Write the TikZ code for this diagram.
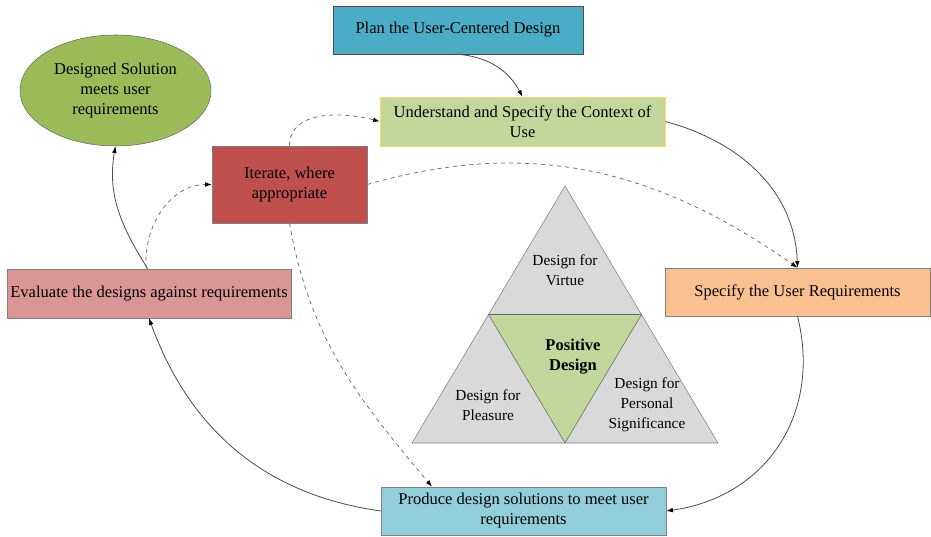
\documentclass[tikz,border=0pt]{standalone}
\usepackage{fontspec}
\setmainfont{Liberation Serif}
\usetikzlibrary{arrows.meta,shapes.geometric}
\usepackage{xcolor}
\definecolor{planblue}{HTML}{4BACC6}
\definecolor{ctxgreen}{HTML}{C3D69B}
\definecolor{ctxborder}{HTML}{FFD966}
\definecolor{iterred}{HTML}{C0504D}
\definecolor{solgreen}{HTML}{9BBB59}
\definecolor{evalpink}{HTML}{D99694}
\definecolor{reqorange}{HTML}{FAC090}
\definecolor{prodblue}{HTML}{92CDDC}
\definecolor{trigray}{HTML}{D9D9D9}

\begin{document}
\begin{tikzpicture}[
        x=0.75pt, y=0.75pt,
        every node/.style={font=\fontsize{12.4}{15}\selectfont, align=center},
        stage/.style={rectangle, draw=black!50, inner sep=1pt},
        flowarrow/.style={draw=black!70, line width=0.6pt, -{Latex[length=5pt,width=3.5pt,color=black]}},
        iterarrow/.style={flowarrow, draw=black!55, dashed},
        facet/.style={font=\fontsize{11.5}{15}\selectfont}
      ]
      \useasboundingbox (0,0) rectangle (931,536);

      % process stages
      \node[stage, fill=planblue, draw=black!70, minimum width=187.5pt, minimum height=36pt] (plan) at (458,506) {Plan the User-Centered Design};
      \node[stage, fill=ctxgreen, draw=ctxborder, minimum width=213.75pt, minimum height=36.75pt] (ctx) at (522.5,414.5) {Understand and Specify the Context of\\Use};
      \node[stage, fill=iterred, minimum width=116.25pt, minimum height=57.75pt] (iter) at (289.5,351.5) {Iterate, where\\appropriate};
      \node[ellipse, draw=black!60, fill=solgreen, inner sep=0pt, minimum width=143.25pt, minimum height=83.25pt] (sol) at (115.5,445.5) {Designed Solution\\meets user\\requirements};
      \node[stage, fill=evalpink, minimum width=213pt, minimum height=36.75pt] (eval) at (149,242.5) {Evaluate the designs against requirements};
      \node[stage, fill=reqorange, minimum width=198.75pt, minimum height=36pt] (req) at (797.5,244) {Specify the User Requirements};
      \node[stage, fill=prodblue, minimum width=213.75pt, minimum height=36pt] (prod) at (523.5,25) {Produce design solutions to meet user\\requirements};

      % positive design triangle
      \coordinate (apex) at (565,350);
      \coordinate (bl) at (412,93);
      \coordinate (br) at (718,93);
      \coordinate (ml) at (488.5,221.5);
      \coordinate (mr) at (641.5,221.5);
      \coordinate (mb) at (565,93);
      \draw[draw=black!50, fill=trigray] (apex) -- (bl) -- (br) -- cycle;
      \draw[draw=black!60, fill=ctxgreen] (ml) -- (mr) -- (mb) -- cycle;
      \node[facet] (virtue) at (565,266) {Design for\\Virtue};
      \node[facet, font=\fontsize{12.4}{15}\selectfont\bfseries] (pos) at (573,179) {Positive\\Design};
      \node[facet] (pleasure) at (488,131) {Design for\\Pleasure};
      \node[facet] (signif) at (647,131) {Design for\\Personal\\Significance};

      % main cycle
      \draw[flowarrow] (plan.south) to[out=-5, in=118] (ctx.north);
      \draw[flowarrow] (ctx.east) to[out=-15, in=92] (req.north);
      \draw[flowarrow] (req.south) to[out=-76, in=8, looseness=1.1] (prod.east);
      \draw[flowarrow] (prod.west) to[out=172, in=-70] (eval.south);
      \draw[flowarrow] ([xshift=-1pt]eval.north) to[out=122, in=-100] (sol.south);

      % iteration
      \draw[iterarrow] ([xshift=-2pt]eval.north) to[out=95, in=180] (iter.west);
      \draw[iterarrow] (iter.north) to[out=90, in=165] (ctx.west);
      \draw[iterarrow] (iter.east) to[out=16, in=145] (req.north);
      \draw[iterarrow] (iter.south) to[out=-80, in=130] ([xshift=-68.6pt]prod.north);
    \end{tikzpicture}
\end{document}
